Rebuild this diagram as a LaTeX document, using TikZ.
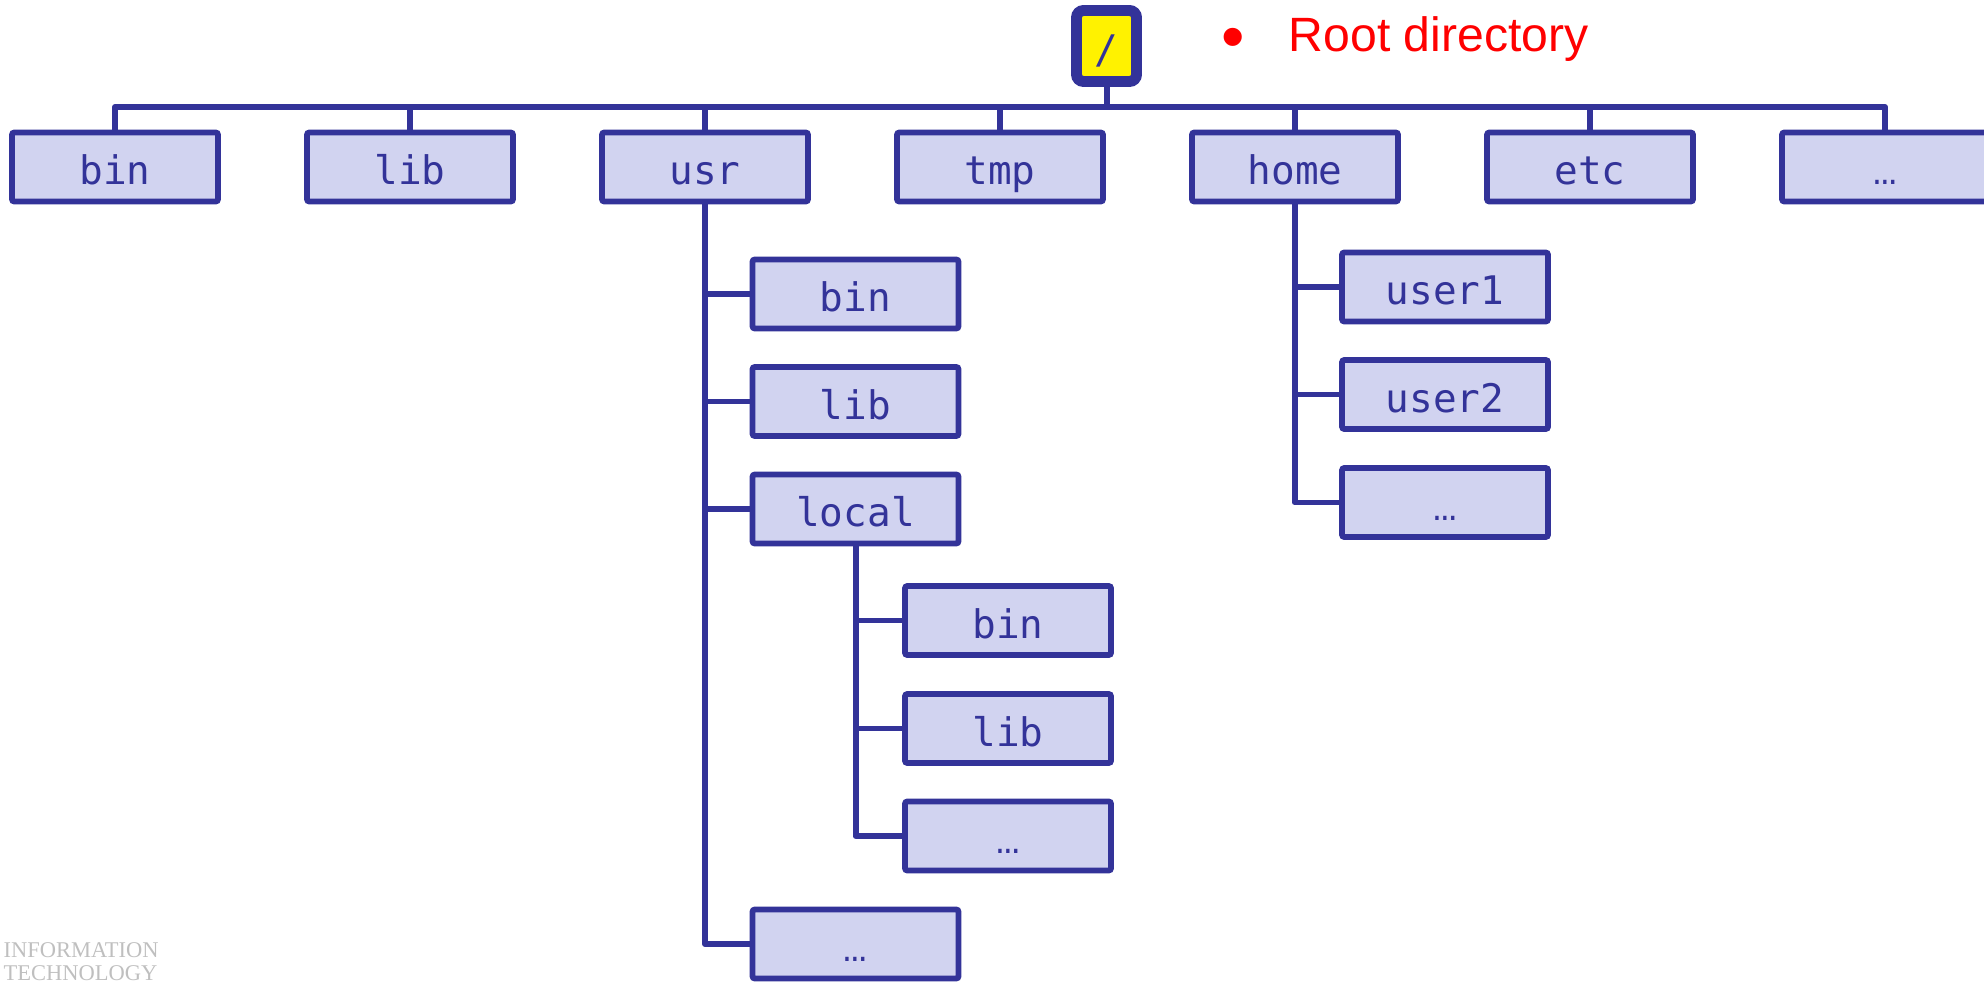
\documentclass[tikz,border=0pt]{standalone}
\usepackage{fontspec}
\setmainfont{Liberation Sans}
\setmonofont{DejaVu Sans Mono}
\newfontfamily\logofont{Liberation Serif}
\newfontfamily\dotsfont{Liberation Mono}
\newcommand{\more}{{\dotsfont …}}
\usetikzlibrary{calc}
\definecolor{dirblue}{RGB}{51,51,153}
\definecolor{dirfill}{RGB}{209,211,240}
\tikzset{
  dirbox/.style={draw=dirblue, fill=dirfill, line width=1.6pt, rounded corners=0.6pt,
    minimum width=2.06cm, minimum height=0.69cm, inner sep=0pt,
    text=dirblue, font=\ttfamily\fontsize{11.2}{13}\selectfont,
    text height=1.2em, text depth=0.2em},
  rootbox/.style={dirbox, fill=yellow, line width=3.1pt, rounded corners=2pt,
    minimum width=0.6cm, minimum height=0.71cm},
  link/.style={draw=dirblue, line width=1.7pt, line join=round},
}

\begin{document}
\begin{tikzpicture}[yscale=-1]
\useasboundingbox (0,0) rectangle (19.84,9.82);
% root and its label
\node[rootbox] (root) at (11.065,0.46) {/};
\node[anchor=base, inner sep=0pt, text=red, font=\fontsize{19}{20}\selectfont] (dot) at (12.33,0.60) {•};
\node[anchor=base west, inner sep=0pt, text=red, font=\fontsize{13.7}{16}\selectfont] (rootlabel) at (12.88,0.52) {Root directory};
% first level
\foreach \lbl [count=\i] in {bin,lib,usr,tmp,home,etc,\more} {
  \node[dirbox] (top\i) at ({1.15+(\i-1)*2.95},1.67) {\lbl};
}
\coordinate (bar) at (0,1.07);
\draw[link] (top1.north) |- (bar -| top7.north) -- (top7.north);
\foreach \i in {2,...,6} {
  \draw[link] (top\i.north) -- (top\i.north |- bar);
}
\draw[link] (root.south) -- (root.south |- bar);
% /usr
\foreach \lbl/\y [count=\i] in {bin/2.94,lib/4.015,local/5.09,\more/9.44} {
  \node[dirbox] (usr\i) at (8.555,\y) {\lbl};
}
\draw[link] (top3.south) |- (usr4.west);
\foreach \i in {1,2,3} {
  \draw[link] (top3.south |- usr\i.west) -- (usr\i.west);
}
% /usr/local
\foreach \lbl/\y [count=\i] in {bin/6.205,lib/7.285,\more/8.36} {
  \node[dirbox] (loc\i) at (10.08,\y) {\lbl};
}
\draw[link] (usr3.south) |- (loc3.west);
\foreach \i in {1,2} {
  \draw[link] (usr3.south |- loc\i.west) -- (loc\i.west);
}
% /home
\foreach \lbl/\y [count=\i] in {user1/2.87,user2/3.945,\more/5.025} {
  \node[dirbox] (hm\i) at (14.45,\y) {\lbl};
}
\draw[link] (top5.south) |- (hm3.west);
\foreach \i in {1,2} {
  \draw[link] (top5.south |- hm\i.west) -- (hm\i.west);
}
% faint logo
\node[anchor=north west, inner sep=0pt, align=left, text=black!25,
  font=\logofont\fontsize{6.4}{6.6}\selectfont] (logo) at (0.03,9.42) {INFORMATION\\TECHNOLOGY};
\end{tikzpicture}
\end{document}
